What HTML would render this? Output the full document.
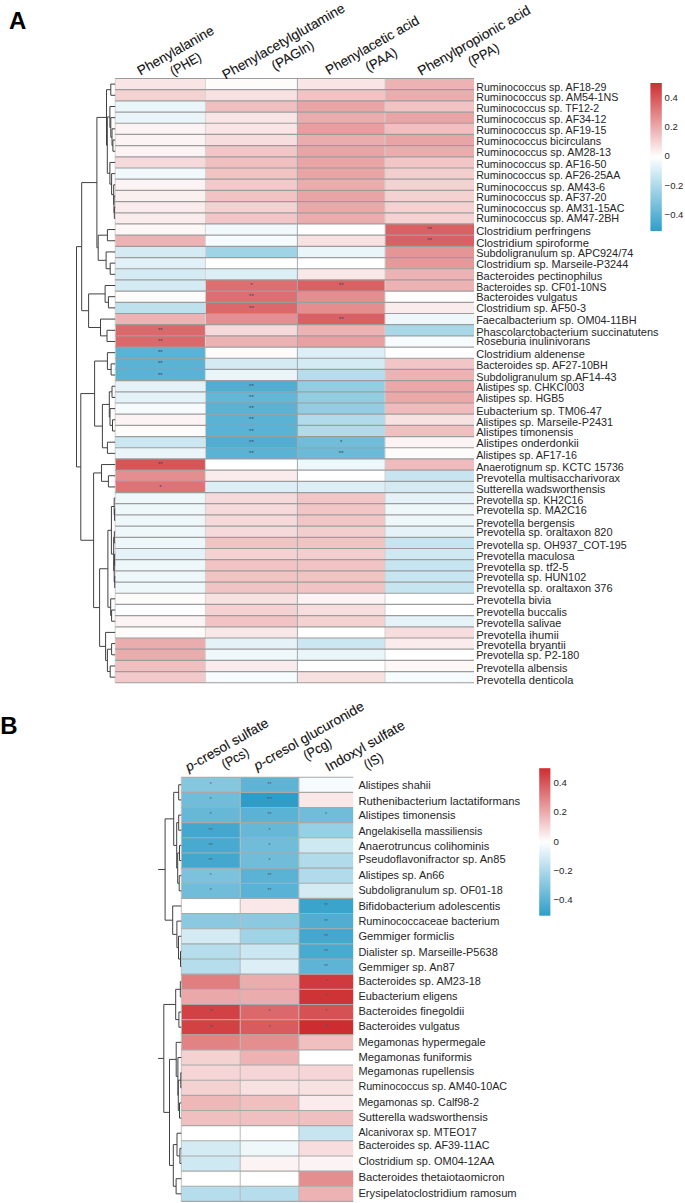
<!DOCTYPE html>
<html><head><meta charset="utf-8"><style>
html,body{margin:0;padding:0;background:#fff;width:685px;height:1203px;overflow:hidden}
</style></head><body>
<svg width="685" height="1203" viewBox="0 0 685 1203" style="position:absolute;left:0;top:0">
<style>text{font-family:"Liberation Sans",sans-serif;fill:#262626}</style>
<rect x="115.20" y="78.50" width="90.20" height="11.19" fill="#f9e5e5"/>
<rect x="205.40" y="78.50" width="92.00" height="11.19" fill="#fefbfb"/>
<rect x="297.40" y="78.50" width="87.60" height="11.19" fill="#f9e5e5"/>
<rect x="385.00" y="78.50" width="89.00" height="11.19" fill="#edb3b4"/>
<rect x="115.20" y="89.69" width="90.20" height="11.19" fill="#f4d2d2"/>
<rect x="205.40" y="89.69" width="92.00" height="11.19" fill="#f8e1e1"/>
<rect x="297.40" y="89.69" width="87.60" height="11.19" fill="#f1c3c3"/>
<rect x="385.00" y="89.69" width="89.00" height="11.19" fill="#ebacad"/>
<rect x="115.20" y="100.88" width="90.20" height="11.19" fill="#e9f5f9"/>
<rect x="205.40" y="100.88" width="92.00" height="11.19" fill="#f0bfc0"/>
<rect x="297.40" y="100.88" width="87.60" height="11.19" fill="#e9a4a6"/>
<rect x="385.00" y="100.88" width="89.00" height="11.19" fill="#f1c3c3"/>
<rect x="115.20" y="112.07" width="90.20" height="11.19" fill="#e9f5f9"/>
<rect x="205.40" y="112.07" width="92.00" height="11.19" fill="#f9e5e5"/>
<rect x="297.40" y="112.07" width="87.60" height="11.19" fill="#ebacad"/>
<rect x="385.00" y="112.07" width="89.00" height="11.19" fill="#e9a4a6"/>
<rect x="115.20" y="123.26" width="90.20" height="11.19" fill="#fcf4f4"/>
<rect x="205.40" y="123.26" width="92.00" height="11.19" fill="#f9e5e5"/>
<rect x="297.40" y="123.26" width="87.60" height="11.19" fill="#e89d9e"/>
<rect x="385.00" y="123.26" width="89.00" height="11.19" fill="#f0bfc0"/>
<rect x="115.20" y="134.45" width="90.20" height="11.19" fill="#fcf4f4"/>
<rect x="205.40" y="134.45" width="92.00" height="11.19" fill="#f7dddd"/>
<rect x="297.40" y="134.45" width="87.60" height="11.19" fill="#ebacad"/>
<rect x="385.00" y="134.45" width="89.00" height="11.19" fill="#e9a4a6"/>
<rect x="115.20" y="145.64" width="90.20" height="11.19" fill="#fcf4f4"/>
<rect x="205.40" y="145.64" width="92.00" height="11.19" fill="#f2c6c7"/>
<rect x="297.40" y="145.64" width="87.60" height="11.19" fill="#e9a4a6"/>
<rect x="385.00" y="145.64" width="89.00" height="11.19" fill="#ebacad"/>
<rect x="115.20" y="156.83" width="90.20" height="11.19" fill="#f6d9da"/>
<rect x="205.40" y="156.83" width="92.00" height="11.19" fill="#f0bfc0"/>
<rect x="297.40" y="156.83" width="87.60" height="11.19" fill="#e9a4a6"/>
<rect x="385.00" y="156.83" width="89.00" height="11.19" fill="#f2c6c7"/>
<rect x="115.20" y="168.02" width="90.20" height="11.19" fill="#f2f9fc"/>
<rect x="205.40" y="168.02" width="92.00" height="11.19" fill="#f1c3c3"/>
<rect x="297.40" y="168.02" width="87.60" height="11.19" fill="#e9a4a6"/>
<rect x="385.00" y="168.02" width="89.00" height="11.19" fill="#f3cecf"/>
<rect x="115.20" y="179.21" width="90.20" height="11.19" fill="#fcf4f4"/>
<rect x="205.40" y="179.21" width="92.00" height="11.19" fill="#f2cacb"/>
<rect x="297.40" y="179.21" width="87.60" height="11.19" fill="#ebacad"/>
<rect x="385.00" y="179.21" width="89.00" height="11.19" fill="#f4d2d2"/>
<rect x="115.20" y="190.40" width="90.20" height="11.19" fill="#fbf0f0"/>
<rect x="205.40" y="190.40" width="92.00" height="11.19" fill="#f1c3c3"/>
<rect x="297.40" y="190.40" width="87.60" height="11.19" fill="#e9a4a6"/>
<rect x="385.00" y="190.40" width="89.00" height="11.19" fill="#f4d2d2"/>
<rect x="115.20" y="201.59" width="90.20" height="11.19" fill="#faecec"/>
<rect x="205.40" y="201.59" width="92.00" height="11.19" fill="#f4d2d2"/>
<rect x="297.40" y="201.59" width="87.60" height="11.19" fill="#eaa8a9"/>
<rect x="385.00" y="201.59" width="89.00" height="11.19" fill="#f4d2d2"/>
<rect x="115.20" y="212.78" width="90.20" height="11.19" fill="#faecec"/>
<rect x="205.40" y="212.78" width="92.00" height="11.19" fill="#f2c6c7"/>
<rect x="297.40" y="212.78" width="87.60" height="11.19" fill="#ebacad"/>
<rect x="385.00" y="212.78" width="89.00" height="11.19" fill="#f4d2d2"/>
<rect x="115.20" y="223.97" width="90.20" height="11.19" fill="#fdf7f8"/>
<rect x="205.40" y="223.97" width="92.00" height="11.19" fill="#f2f9fc"/>
<rect x="297.40" y="223.97" width="87.60" height="11.19" fill="#ffffff"/>
<rect x="385.00" y="223.97" width="89.00" height="11.19" fill="#d96063"/>
<rect x="115.20" y="235.16" width="90.20" height="11.19" fill="#edb3b4"/>
<rect x="205.40" y="235.16" width="92.00" height="11.19" fill="#f6fbfd"/>
<rect x="297.40" y="235.16" width="87.60" height="11.19" fill="#f8e1e1"/>
<rect x="385.00" y="235.16" width="89.00" height="11.19" fill="#d96063"/>
<rect x="115.20" y="246.35" width="90.20" height="11.19" fill="#d4ebf4"/>
<rect x="205.40" y="246.35" width="92.00" height="11.19" fill="#9fd3e6"/>
<rect x="297.40" y="246.35" width="87.60" height="11.19" fill="#e9f5f9"/>
<rect x="385.00" y="246.35" width="89.00" height="11.19" fill="#e69597"/>
<rect x="115.20" y="257.54" width="90.20" height="11.19" fill="#e1f1f7"/>
<rect x="205.40" y="257.54" width="92.00" height="11.19" fill="#ffffff"/>
<rect x="297.40" y="257.54" width="87.60" height="11.19" fill="#ffffff"/>
<rect x="385.00" y="257.54" width="89.00" height="11.19" fill="#e7999a"/>
<rect x="115.20" y="268.73" width="90.20" height="11.19" fill="#d4ebf4"/>
<rect x="205.40" y="268.73" width="92.00" height="11.19" fill="#dceff6"/>
<rect x="297.40" y="268.73" width="87.60" height="11.19" fill="#fae8e9"/>
<rect x="385.00" y="268.73" width="89.00" height="11.19" fill="#edb3b4"/>
<rect x="115.20" y="279.92" width="90.20" height="11.19" fill="#d4ebf4"/>
<rect x="205.40" y="279.92" width="92.00" height="11.19" fill="#dd6f71"/>
<rect x="297.40" y="279.92" width="87.60" height="11.19" fill="#d96063"/>
<rect x="385.00" y="279.92" width="89.00" height="11.19" fill="#edb3b4"/>
<rect x="115.20" y="291.11" width="90.20" height="11.19" fill="#fefbfb"/>
<rect x="205.40" y="291.11" width="92.00" height="11.19" fill="#dd6f71"/>
<rect x="297.40" y="291.11" width="87.60" height="11.19" fill="#e48e8f"/>
<rect x="385.00" y="291.11" width="89.00" height="11.19" fill="#ffffff"/>
<rect x="115.20" y="302.30" width="90.20" height="11.19" fill="#bee1ee"/>
<rect x="205.40" y="302.30" width="92.00" height="11.19" fill="#db686a"/>
<rect x="297.40" y="302.30" width="87.60" height="11.19" fill="#e48e8f"/>
<rect x="385.00" y="302.30" width="89.00" height="11.19" fill="#faecec"/>
<rect x="115.20" y="313.49" width="90.20" height="11.19" fill="#edb3b4"/>
<rect x="205.40" y="313.49" width="92.00" height="11.19" fill="#e48e8f"/>
<rect x="297.40" y="313.49" width="87.60" height="11.19" fill="#d96063"/>
<rect x="385.00" y="313.49" width="89.00" height="11.19" fill="#eef7fa"/>
<rect x="115.20" y="324.68" width="90.20" height="11.19" fill="#db686a"/>
<rect x="205.40" y="324.68" width="92.00" height="11.19" fill="#f6d9da"/>
<rect x="297.40" y="324.68" width="87.60" height="11.19" fill="#edb3b4"/>
<rect x="385.00" y="324.68" width="89.00" height="11.19" fill="#a8d7e8"/>
<rect x="115.20" y="335.87" width="90.20" height="11.19" fill="#db686a"/>
<rect x="205.40" y="335.87" width="92.00" height="11.19" fill="#edb3b4"/>
<rect x="297.40" y="335.87" width="87.60" height="11.19" fill="#e8a0a2"/>
<rect x="385.00" y="335.87" width="89.00" height="11.19" fill="#f6fbfd"/>
<rect x="115.20" y="347.06" width="90.20" height="11.19" fill="#5ab2d4"/>
<rect x="205.40" y="347.06" width="92.00" height="11.19" fill="#fefbfb"/>
<rect x="297.40" y="347.06" width="87.60" height="11.19" fill="#dceff6"/>
<rect x="385.00" y="347.06" width="89.00" height="11.19" fill="#ffffff"/>
<rect x="115.20" y="358.25" width="90.20" height="11.19" fill="#5ab2d4"/>
<rect x="205.40" y="358.25" width="92.00" height="11.19" fill="#d4ebf4"/>
<rect x="297.40" y="358.25" width="87.60" height="11.19" fill="#d4ebf4"/>
<rect x="385.00" y="358.25" width="89.00" height="11.19" fill="#f2c6c7"/>
<rect x="115.20" y="369.44" width="90.20" height="11.19" fill="#5ab2d4"/>
<rect x="205.40" y="369.44" width="92.00" height="11.19" fill="#e9f5f9"/>
<rect x="297.40" y="369.44" width="87.60" height="11.19" fill="#b5ddec"/>
<rect x="385.00" y="369.44" width="89.00" height="11.19" fill="#edb3b4"/>
<rect x="115.20" y="380.63" width="90.20" height="11.19" fill="#e5f3f8"/>
<rect x="205.40" y="380.63" width="92.00" height="11.19" fill="#51aed1"/>
<rect x="297.40" y="380.63" width="87.60" height="11.19" fill="#92cde2"/>
<rect x="385.00" y="380.63" width="89.00" height="11.19" fill="#eaa8a9"/>
<rect x="115.20" y="391.82" width="90.20" height="11.19" fill="#e5f3f8"/>
<rect x="205.40" y="391.82" width="92.00" height="11.19" fill="#63b6d6"/>
<rect x="297.40" y="391.82" width="87.60" height="11.19" fill="#92cde2"/>
<rect x="385.00" y="391.82" width="89.00" height="11.19" fill="#eaa8a9"/>
<rect x="115.20" y="403.01" width="90.20" height="11.19" fill="#f6fbfd"/>
<rect x="205.40" y="403.01" width="92.00" height="11.19" fill="#5ab2d4"/>
<rect x="297.40" y="403.01" width="87.60" height="11.19" fill="#92cde2"/>
<rect x="385.00" y="403.01" width="89.00" height="11.19" fill="#efbbbc"/>
<rect x="115.20" y="414.20" width="90.20" height="11.19" fill="#fcf4f4"/>
<rect x="205.40" y="414.20" width="92.00" height="11.19" fill="#5ab2d4"/>
<rect x="297.40" y="414.20" width="87.60" height="11.19" fill="#b1dbea"/>
<rect x="385.00" y="414.20" width="89.00" height="11.19" fill="#f8e1e1"/>
<rect x="115.20" y="425.39" width="90.20" height="11.19" fill="#fefbfb"/>
<rect x="205.40" y="425.39" width="92.00" height="11.19" fill="#5ab2d4"/>
<rect x="297.40" y="425.39" width="87.60" height="11.19" fill="#b1dbea"/>
<rect x="385.00" y="425.39" width="89.00" height="11.19" fill="#f0bfc0"/>
<rect x="115.20" y="436.58" width="90.20" height="11.19" fill="#cbe7f1"/>
<rect x="205.40" y="436.58" width="92.00" height="11.19" fill="#51aed1"/>
<rect x="297.40" y="436.58" width="87.60" height="11.19" fill="#70bcd9"/>
<rect x="385.00" y="436.58" width="89.00" height="11.19" fill="#fcf4f4"/>
<rect x="115.20" y="447.77" width="90.20" height="11.19" fill="#e9f5f9"/>
<rect x="205.40" y="447.77" width="92.00" height="11.19" fill="#5ab2d4"/>
<rect x="297.40" y="447.77" width="87.60" height="11.19" fill="#6bbad8"/>
<rect x="385.00" y="447.77" width="89.00" height="11.19" fill="#fefbfb"/>
<rect x="115.20" y="458.96" width="90.20" height="11.19" fill="#d65557"/>
<rect x="205.40" y="458.96" width="92.00" height="11.19" fill="#ffffff"/>
<rect x="297.40" y="458.96" width="87.60" height="11.19" fill="#eef7fa"/>
<rect x="385.00" y="458.96" width="89.00" height="11.19" fill="#efbbbc"/>
<rect x="115.20" y="470.15" width="90.20" height="11.19" fill="#e48e8f"/>
<rect x="205.40" y="470.15" width="92.00" height="11.19" fill="#faecec"/>
<rect x="297.40" y="470.15" width="87.60" height="11.19" fill="#ffffff"/>
<rect x="385.00" y="470.15" width="89.00" height="11.19" fill="#c6e5f0"/>
<rect x="115.20" y="481.34" width="90.20" height="11.19" fill="#de7375"/>
<rect x="205.40" y="481.34" width="92.00" height="11.19" fill="#dceff6"/>
<rect x="297.40" y="481.34" width="87.60" height="11.19" fill="#dceff6"/>
<rect x="385.00" y="481.34" width="89.00" height="11.19" fill="#d4ebf4"/>
<rect x="115.20" y="492.53" width="90.20" height="11.19" fill="#eef7fa"/>
<rect x="205.40" y="492.53" width="92.00" height="11.19" fill="#f6d9da"/>
<rect x="297.40" y="492.53" width="87.60" height="11.19" fill="#f2c6c7"/>
<rect x="385.00" y="492.53" width="89.00" height="11.19" fill="#e5f3f8"/>
<rect x="115.20" y="503.72" width="90.20" height="11.19" fill="#eef7fa"/>
<rect x="205.40" y="503.72" width="92.00" height="11.19" fill="#f6d9da"/>
<rect x="297.40" y="503.72" width="87.60" height="11.19" fill="#f2c6c7"/>
<rect x="385.00" y="503.72" width="89.00" height="11.19" fill="#eef7fa"/>
<rect x="115.20" y="514.91" width="90.20" height="11.19" fill="#eef7fa"/>
<rect x="205.40" y="514.91" width="92.00" height="11.19" fill="#f6d9da"/>
<rect x="297.40" y="514.91" width="87.60" height="11.19" fill="#f2c6c7"/>
<rect x="385.00" y="514.91" width="89.00" height="11.19" fill="#eef7fa"/>
<rect x="115.20" y="526.10" width="90.20" height="11.19" fill="#eef7fa"/>
<rect x="205.40" y="526.10" width="92.00" height="11.19" fill="#f6d9da"/>
<rect x="297.40" y="526.10" width="87.60" height="11.19" fill="#f3cecf"/>
<rect x="385.00" y="526.10" width="89.00" height="11.19" fill="#e5f3f8"/>
<rect x="115.20" y="537.29" width="90.20" height="11.19" fill="#eef7fa"/>
<rect x="205.40" y="537.29" width="92.00" height="11.19" fill="#f1c3c3"/>
<rect x="297.40" y="537.29" width="87.60" height="11.19" fill="#f1c3c3"/>
<rect x="385.00" y="537.29" width="89.00" height="11.19" fill="#c6e5f0"/>
<rect x="115.20" y="548.48" width="90.20" height="11.19" fill="#e5f3f8"/>
<rect x="205.40" y="548.48" width="92.00" height="11.19" fill="#f4d2d2"/>
<rect x="297.40" y="548.48" width="87.60" height="11.19" fill="#f3cecf"/>
<rect x="385.00" y="548.48" width="89.00" height="11.19" fill="#cfe9f2"/>
<rect x="115.20" y="559.67" width="90.20" height="11.19" fill="#eef7fa"/>
<rect x="205.40" y="559.67" width="92.00" height="11.19" fill="#f1c3c3"/>
<rect x="297.40" y="559.67" width="87.60" height="11.19" fill="#f1c3c3"/>
<rect x="385.00" y="559.67" width="89.00" height="11.19" fill="#c6e5f0"/>
<rect x="115.20" y="570.86" width="90.20" height="11.19" fill="#eef7fa"/>
<rect x="205.40" y="570.86" width="92.00" height="11.19" fill="#f1c3c3"/>
<rect x="297.40" y="570.86" width="87.60" height="11.19" fill="#f1c3c3"/>
<rect x="385.00" y="570.86" width="89.00" height="11.19" fill="#c6e5f0"/>
<rect x="115.20" y="582.05" width="90.20" height="11.19" fill="#eef7fa"/>
<rect x="205.40" y="582.05" width="92.00" height="11.19" fill="#f1c3c3"/>
<rect x="297.40" y="582.05" width="87.60" height="11.19" fill="#f1c3c3"/>
<rect x="385.00" y="582.05" width="89.00" height="11.19" fill="#c6e5f0"/>
<rect x="115.20" y="593.24" width="90.20" height="11.19" fill="#fefbfb"/>
<rect x="205.40" y="593.24" width="92.00" height="11.19" fill="#f8e1e1"/>
<rect x="297.40" y="593.24" width="87.60" height="11.19" fill="#fcf4f4"/>
<rect x="385.00" y="593.24" width="89.00" height="11.19" fill="#ffffff"/>
<rect x="115.20" y="604.43" width="90.20" height="11.19" fill="#fbfdfe"/>
<rect x="205.40" y="604.43" width="92.00" height="11.19" fill="#f4d2d2"/>
<rect x="297.40" y="604.43" width="87.60" height="11.19" fill="#f7dddd"/>
<rect x="385.00" y="604.43" width="89.00" height="11.19" fill="#ffffff"/>
<rect x="115.20" y="615.62" width="90.20" height="11.19" fill="#fcf4f4"/>
<rect x="205.40" y="615.62" width="92.00" height="11.19" fill="#f1c3c3"/>
<rect x="297.40" y="615.62" width="87.60" height="11.19" fill="#f4d2d2"/>
<rect x="385.00" y="615.62" width="89.00" height="11.19" fill="#e5f3f8"/>
<rect x="115.20" y="626.81" width="90.20" height="11.19" fill="#fefbfb"/>
<rect x="205.40" y="626.81" width="92.00" height="11.19" fill="#fae8e9"/>
<rect x="297.40" y="626.81" width="87.60" height="11.19" fill="#ffffff"/>
<rect x="385.00" y="626.81" width="89.00" height="11.19" fill="#f7dddd"/>
<rect x="115.20" y="638.00" width="90.20" height="11.19" fill="#ebacad"/>
<rect x="205.40" y="638.00" width="92.00" height="11.19" fill="#e5f3f8"/>
<rect x="297.40" y="638.00" width="87.60" height="11.19" fill="#cbe7f1"/>
<rect x="385.00" y="638.00" width="89.00" height="11.19" fill="#faecec"/>
<rect x="115.20" y="649.19" width="90.20" height="11.19" fill="#ebacad"/>
<rect x="205.40" y="649.19" width="92.00" height="11.19" fill="#eef7fa"/>
<rect x="297.40" y="649.19" width="87.60" height="11.19" fill="#e9f5f9"/>
<rect x="385.00" y="649.19" width="89.00" height="11.19" fill="#ffffff"/>
<rect x="115.20" y="660.38" width="90.20" height="11.19" fill="#f0bfc0"/>
<rect x="205.40" y="660.38" width="92.00" height="11.19" fill="#faecec"/>
<rect x="297.40" y="660.38" width="87.60" height="11.19" fill="#ffffff"/>
<rect x="385.00" y="660.38" width="89.00" height="11.19" fill="#fdf7f8"/>
<rect x="115.20" y="671.57" width="90.20" height="11.19" fill="#f2cacb"/>
<rect x="205.40" y="671.57" width="92.00" height="11.19" fill="#f6fbfd"/>
<rect x="297.40" y="671.57" width="87.60" height="11.19" fill="#f8e1e1"/>
<rect x="385.00" y="671.57" width="89.00" height="11.19" fill="#f6fbfd"/>
<line x1="115.20" y1="78.50" x2="115.20" y2="682.76" stroke="#d0d0d0" stroke-width="1.00"/>
<line x1="205.40" y1="78.50" x2="205.40" y2="682.76" stroke="#d4d4d4" stroke-width="1.00"/>
<line x1="297.40" y1="78.50" x2="297.40" y2="682.76" stroke="#a0a8b0" stroke-width="1.00"/>
<line x1="385.00" y1="78.50" x2="385.00" y2="682.76" stroke="#d0d0d0" stroke-width="1.00"/>
<line x1="115.20" y1="78.50" x2="474.00" y2="78.50" stroke="#9c9c9c" stroke-width="1.20"/>
<line x1="115.20" y1="89.69" x2="474.00" y2="89.69" stroke="#9c9c9c" stroke-width="1.20"/>
<line x1="115.20" y1="100.88" x2="474.00" y2="100.88" stroke="#9c9c9c" stroke-width="1.20"/>
<line x1="115.20" y1="112.07" x2="474.00" y2="112.07" stroke="#9c9c9c" stroke-width="1.20"/>
<line x1="115.20" y1="123.26" x2="474.00" y2="123.26" stroke="#9c9c9c" stroke-width="1.20"/>
<line x1="115.20" y1="134.45" x2="474.00" y2="134.45" stroke="#9c9c9c" stroke-width="1.20"/>
<line x1="115.20" y1="145.64" x2="474.00" y2="145.64" stroke="#9c9c9c" stroke-width="1.20"/>
<line x1="115.20" y1="156.83" x2="474.00" y2="156.83" stroke="#9c9c9c" stroke-width="1.20"/>
<line x1="115.20" y1="168.02" x2="474.00" y2="168.02" stroke="#9c9c9c" stroke-width="1.20"/>
<line x1="115.20" y1="179.21" x2="474.00" y2="179.21" stroke="#9c9c9c" stroke-width="1.20"/>
<line x1="115.20" y1="190.40" x2="474.00" y2="190.40" stroke="#9c9c9c" stroke-width="1.20"/>
<line x1="115.20" y1="201.59" x2="474.00" y2="201.59" stroke="#9c9c9c" stroke-width="1.20"/>
<line x1="115.20" y1="212.78" x2="474.00" y2="212.78" stroke="#9c9c9c" stroke-width="1.20"/>
<line x1="115.20" y1="223.97" x2="474.00" y2="223.97" stroke="#9c9c9c" stroke-width="1.20"/>
<line x1="115.20" y1="235.16" x2="474.00" y2="235.16" stroke="#9c9c9c" stroke-width="1.20"/>
<line x1="115.20" y1="246.35" x2="474.00" y2="246.35" stroke="#9c9c9c" stroke-width="1.20"/>
<line x1="115.20" y1="257.54" x2="474.00" y2="257.54" stroke="#9c9c9c" stroke-width="1.20"/>
<line x1="115.20" y1="268.73" x2="474.00" y2="268.73" stroke="#9c9c9c" stroke-width="1.20"/>
<line x1="115.20" y1="279.92" x2="474.00" y2="279.92" stroke="#9c9c9c" stroke-width="1.20"/>
<line x1="115.20" y1="291.11" x2="474.00" y2="291.11" stroke="#9c9c9c" stroke-width="1.20"/>
<line x1="115.20" y1="302.30" x2="474.00" y2="302.30" stroke="#9c9c9c" stroke-width="1.20"/>
<line x1="115.20" y1="313.49" x2="474.00" y2="313.49" stroke="#9c9c9c" stroke-width="1.20"/>
<line x1="115.20" y1="324.68" x2="474.00" y2="324.68" stroke="#9c9c9c" stroke-width="1.20"/>
<line x1="115.20" y1="335.87" x2="474.00" y2="335.87" stroke="#9c9c9c" stroke-width="1.20"/>
<line x1="115.20" y1="347.06" x2="474.00" y2="347.06" stroke="#9c9c9c" stroke-width="1.20"/>
<line x1="115.20" y1="358.25" x2="474.00" y2="358.25" stroke="#9c9c9c" stroke-width="1.20"/>
<line x1="115.20" y1="369.44" x2="474.00" y2="369.44" stroke="#9c9c9c" stroke-width="1.20"/>
<line x1="115.20" y1="380.63" x2="474.00" y2="380.63" stroke="#9c9c9c" stroke-width="1.20"/>
<line x1="115.20" y1="391.82" x2="474.00" y2="391.82" stroke="#9c9c9c" stroke-width="1.20"/>
<line x1="115.20" y1="403.01" x2="474.00" y2="403.01" stroke="#9c9c9c" stroke-width="1.20"/>
<line x1="115.20" y1="414.20" x2="474.00" y2="414.20" stroke="#9c9c9c" stroke-width="1.20"/>
<line x1="115.20" y1="425.39" x2="474.00" y2="425.39" stroke="#9c9c9c" stroke-width="1.20"/>
<line x1="115.20" y1="436.58" x2="474.00" y2="436.58" stroke="#9c9c9c" stroke-width="1.20"/>
<line x1="115.20" y1="447.77" x2="474.00" y2="447.77" stroke="#9c9c9c" stroke-width="1.20"/>
<line x1="115.20" y1="458.96" x2="474.00" y2="458.96" stroke="#9c9c9c" stroke-width="1.20"/>
<line x1="115.20" y1="470.15" x2="474.00" y2="470.15" stroke="#9c9c9c" stroke-width="1.20"/>
<line x1="115.20" y1="481.34" x2="474.00" y2="481.34" stroke="#9c9c9c" stroke-width="1.20"/>
<line x1="115.20" y1="492.53" x2="474.00" y2="492.53" stroke="#9c9c9c" stroke-width="1.20"/>
<line x1="115.20" y1="503.72" x2="474.00" y2="503.72" stroke="#9c9c9c" stroke-width="1.20"/>
<line x1="115.20" y1="514.91" x2="474.00" y2="514.91" stroke="#9c9c9c" stroke-width="1.20"/>
<line x1="115.20" y1="526.10" x2="474.00" y2="526.10" stroke="#9c9c9c" stroke-width="1.20"/>
<line x1="115.20" y1="537.29" x2="474.00" y2="537.29" stroke="#9c9c9c" stroke-width="1.20"/>
<line x1="115.20" y1="548.48" x2="474.00" y2="548.48" stroke="#9c9c9c" stroke-width="1.20"/>
<line x1="115.20" y1="559.67" x2="474.00" y2="559.67" stroke="#9c9c9c" stroke-width="1.20"/>
<line x1="115.20" y1="570.86" x2="474.00" y2="570.86" stroke="#9c9c9c" stroke-width="1.20"/>
<line x1="115.20" y1="582.05" x2="474.00" y2="582.05" stroke="#9c9c9c" stroke-width="1.20"/>
<line x1="115.20" y1="593.24" x2="474.00" y2="593.24" stroke="#9c9c9c" stroke-width="1.20"/>
<line x1="115.20" y1="604.43" x2="474.00" y2="604.43" stroke="#9c9c9c" stroke-width="1.20"/>
<line x1="115.20" y1="615.62" x2="474.00" y2="615.62" stroke="#9c9c9c" stroke-width="1.20"/>
<line x1="115.20" y1="626.81" x2="474.00" y2="626.81" stroke="#9c9c9c" stroke-width="1.20"/>
<line x1="115.20" y1="638.00" x2="474.00" y2="638.00" stroke="#9c9c9c" stroke-width="1.20"/>
<line x1="115.20" y1="649.19" x2="474.00" y2="649.19" stroke="#9c9c9c" stroke-width="1.20"/>
<line x1="115.20" y1="660.38" x2="474.00" y2="660.38" stroke="#9c9c9c" stroke-width="1.20"/>
<line x1="115.20" y1="671.57" x2="474.00" y2="671.57" stroke="#9c9c9c" stroke-width="1.20"/>
<line x1="115.20" y1="682.76" x2="474.00" y2="682.76" stroke="#9c9c9c" stroke-width="1.20"/>
<text x="429.50" y="231.16" font-size="6.0" text-anchor="middle" style="fill:#3a4450">**</text>
<text x="429.50" y="242.35" font-size="6.0" text-anchor="middle" style="fill:#3a4450">**</text>
<text x="251.40" y="287.12" font-size="6.0" text-anchor="middle" style="fill:#3a4450">*</text>
<text x="251.40" y="298.31" font-size="6.0" text-anchor="middle" style="fill:#3a4450">**</text>
<text x="251.40" y="309.50" font-size="6.0" text-anchor="middle" style="fill:#3a4450">**</text>
<text x="341.20" y="287.12" font-size="6.0" text-anchor="middle" style="fill:#3a4450">**</text>
<text x="341.20" y="320.69" font-size="6.0" text-anchor="middle" style="fill:#3a4450">**</text>
<text x="160.30" y="331.88" font-size="6.0" text-anchor="middle" style="fill:#3a4450">**</text>
<text x="160.30" y="343.07" font-size="6.0" text-anchor="middle" style="fill:#3a4450">**</text>
<text x="160.30" y="354.26" font-size="6.0" text-anchor="middle" style="fill:#3a4450">**</text>
<text x="160.30" y="365.45" font-size="6.0" text-anchor="middle" style="fill:#3a4450">**</text>
<text x="160.30" y="376.64" font-size="6.0" text-anchor="middle" style="fill:#3a4450">**</text>
<text x="251.40" y="387.83" font-size="6.0" text-anchor="middle" style="fill:#3a4450">**</text>
<text x="251.40" y="399.02" font-size="6.0" text-anchor="middle" style="fill:#3a4450">**</text>
<text x="251.40" y="410.21" font-size="6.0" text-anchor="middle" style="fill:#3a4450">**</text>
<text x="251.40" y="421.40" font-size="6.0" text-anchor="middle" style="fill:#3a4450">**</text>
<text x="251.40" y="432.59" font-size="6.0" text-anchor="middle" style="fill:#3a4450">**</text>
<text x="251.40" y="443.78" font-size="6.0" text-anchor="middle" style="fill:#3a4450">**</text>
<text x="251.40" y="454.97" font-size="6.0" text-anchor="middle" style="fill:#3a4450">**</text>
<text x="341.20" y="443.78" font-size="6.0" text-anchor="middle" style="fill:#3a4450">*</text>
<text x="341.20" y="454.97" font-size="6.0" text-anchor="middle" style="fill:#3a4450">**</text>
<text x="160.30" y="466.16" font-size="6.0" text-anchor="middle" style="fill:#3a4450">**</text>
<text x="160.30" y="488.54" font-size="6.0" text-anchor="middle" style="fill:#3a4450">*</text>
<rect x="181.30" y="777.20" width="58.90" height="15.15" fill="#85c7df"/>
<rect x="240.20" y="777.20" width="58.70" height="15.15" fill="#5eb4d5"/>
<rect x="298.90" y="777.20" width="54.30" height="15.15" fill="#f6fbfd"/>
<rect x="181.30" y="792.35" width="58.90" height="15.15" fill="#70bcd9"/>
<rect x="240.20" y="792.35" width="58.70" height="15.15" fill="#2e9ec8"/>
<rect x="298.90" y="792.35" width="54.30" height="15.15" fill="#fae8e9"/>
<rect x="181.30" y="807.50" width="58.90" height="15.15" fill="#67b8d7"/>
<rect x="240.20" y="807.50" width="58.70" height="15.15" fill="#5ab2d4"/>
<rect x="298.90" y="807.50" width="54.30" height="15.15" fill="#70bcd9"/>
<rect x="181.30" y="822.65" width="58.90" height="15.15" fill="#44a8ce"/>
<rect x="240.20" y="822.65" width="58.70" height="15.15" fill="#67b8d7"/>
<rect x="298.90" y="822.65" width="54.30" height="15.15" fill="#97cfe4"/>
<rect x="181.30" y="837.80" width="58.90" height="15.15" fill="#48aacf"/>
<rect x="240.20" y="837.80" width="58.70" height="15.15" fill="#70bcd9"/>
<rect x="298.90" y="837.80" width="54.30" height="15.15" fill="#cfe9f2"/>
<rect x="181.30" y="852.95" width="58.90" height="15.15" fill="#44a8ce"/>
<rect x="240.20" y="852.95" width="58.70" height="15.15" fill="#70bcd9"/>
<rect x="298.90" y="852.95" width="54.30" height="15.15" fill="#b1dbea"/>
<rect x="181.30" y="868.10" width="58.90" height="15.15" fill="#7dc2dd"/>
<rect x="240.20" y="868.10" width="58.70" height="15.15" fill="#5ab2d4"/>
<rect x="298.90" y="868.10" width="54.30" height="15.15" fill="#b1dbea"/>
<rect x="181.30" y="883.25" width="58.90" height="15.15" fill="#70bcd9"/>
<rect x="240.20" y="883.25" width="58.70" height="15.15" fill="#5ab2d4"/>
<rect x="298.90" y="883.25" width="54.30" height="15.15" fill="#d4ebf4"/>
<rect x="181.30" y="898.40" width="58.90" height="15.15" fill="#ffffff"/>
<rect x="240.20" y="898.40" width="58.70" height="15.15" fill="#fae8e9"/>
<rect x="298.90" y="898.40" width="54.30" height="15.15" fill="#3ba4cc"/>
<rect x="181.30" y="913.55" width="58.90" height="15.15" fill="#8ac9e0"/>
<rect x="240.20" y="913.55" width="58.70" height="15.15" fill="#8ac9e0"/>
<rect x="298.90" y="913.55" width="54.30" height="15.15" fill="#51aed1"/>
<rect x="181.30" y="928.70" width="58.90" height="15.15" fill="#d4ebf4"/>
<rect x="240.20" y="928.70" width="58.70" height="15.15" fill="#9fd3e6"/>
<rect x="298.90" y="928.70" width="54.30" height="15.15" fill="#44a8ce"/>
<rect x="181.30" y="943.85" width="58.90" height="15.15" fill="#b5ddec"/>
<rect x="240.20" y="943.85" width="58.70" height="15.15" fill="#cbe7f1"/>
<rect x="298.90" y="943.85" width="54.30" height="15.15" fill="#48aacf"/>
<rect x="181.30" y="959.00" width="58.90" height="15.15" fill="#b5ddec"/>
<rect x="240.20" y="959.00" width="58.70" height="15.15" fill="#dceff6"/>
<rect x="298.90" y="959.00" width="54.30" height="15.15" fill="#5eb4d5"/>
<rect x="181.30" y="974.15" width="58.90" height="15.15" fill="#e07e80"/>
<rect x="240.20" y="974.15" width="58.70" height="15.15" fill="#ebacad"/>
<rect x="298.90" y="974.15" width="54.30" height="15.15" fill="#d03a3d"/>
<rect x="181.30" y="989.30" width="58.90" height="15.15" fill="#eaa8a9"/>
<rect x="240.20" y="989.30" width="58.70" height="15.15" fill="#ebacad"/>
<rect x="298.90" y="989.30" width="54.30" height="15.15" fill="#ce3336"/>
<rect x="181.30" y="1004.45" width="58.90" height="15.15" fill="#d24245"/>
<rect x="240.20" y="1004.45" width="58.70" height="15.15" fill="#db686a"/>
<rect x="298.90" y="1004.45" width="54.30" height="15.15" fill="#d65154"/>
<rect x="181.30" y="1019.60" width="58.90" height="15.15" fill="#d24245"/>
<rect x="240.20" y="1019.60" width="58.70" height="15.15" fill="#d85c5f"/>
<rect x="298.90" y="1019.60" width="54.30" height="15.15" fill="#cd2d30"/>
<rect x="181.30" y="1034.75" width="58.90" height="15.15" fill="#e18284"/>
<rect x="240.20" y="1034.75" width="58.70" height="15.15" fill="#e48e8f"/>
<rect x="298.90" y="1034.75" width="54.30" height="15.15" fill="#f0bfc0"/>
<rect x="181.30" y="1049.90" width="58.90" height="15.15" fill="#f4d2d2"/>
<rect x="240.20" y="1049.90" width="58.70" height="15.15" fill="#edb3b4"/>
<rect x="298.90" y="1049.90" width="54.30" height="15.15" fill="#ffffff"/>
<rect x="181.30" y="1065.05" width="58.90" height="15.15" fill="#f5d5d6"/>
<rect x="240.20" y="1065.05" width="58.70" height="15.15" fill="#f5d5d6"/>
<rect x="298.90" y="1065.05" width="54.30" height="15.15" fill="#f5d5d6"/>
<rect x="181.30" y="1080.20" width="58.90" height="15.15" fill="#f4d2d2"/>
<rect x="240.20" y="1080.20" width="58.70" height="15.15" fill="#f8e1e1"/>
<rect x="298.90" y="1080.20" width="54.30" height="15.15" fill="#f8e1e1"/>
<rect x="181.30" y="1095.35" width="58.90" height="15.15" fill="#eeb7b8"/>
<rect x="240.20" y="1095.35" width="58.70" height="15.15" fill="#f0bfc0"/>
<rect x="298.90" y="1095.35" width="54.30" height="15.15" fill="#faecec"/>
<rect x="181.30" y="1110.50" width="58.90" height="15.15" fill="#f0bfc0"/>
<rect x="240.20" y="1110.50" width="58.70" height="15.15" fill="#f0bfc0"/>
<rect x="298.90" y="1110.50" width="54.30" height="15.15" fill="#f0bfc0"/>
<rect x="181.30" y="1125.65" width="58.90" height="15.15" fill="#ffffff"/>
<rect x="240.20" y="1125.65" width="58.70" height="15.15" fill="#ffffff"/>
<rect x="298.90" y="1125.65" width="54.30" height="15.15" fill="#c6e5f0"/>
<rect x="181.30" y="1140.80" width="58.90" height="15.15" fill="#d4ebf4"/>
<rect x="240.20" y="1140.80" width="58.70" height="15.15" fill="#eef7fa"/>
<rect x="298.90" y="1140.80" width="54.30" height="15.15" fill="#f7dddd"/>
<rect x="181.30" y="1155.95" width="58.90" height="15.15" fill="#cfe9f2"/>
<rect x="240.20" y="1155.95" width="58.70" height="15.15" fill="#fcf4f4"/>
<rect x="298.90" y="1155.95" width="54.30" height="15.15" fill="#fcf4f4"/>
<rect x="181.30" y="1171.10" width="58.90" height="15.15" fill="#ffffff"/>
<rect x="240.20" y="1171.10" width="58.70" height="15.15" fill="#ffffff"/>
<rect x="298.90" y="1171.10" width="54.30" height="15.15" fill="#e48e8f"/>
<rect x="181.30" y="1186.25" width="58.90" height="15.15" fill="#b5ddec"/>
<rect x="240.20" y="1186.25" width="58.70" height="15.15" fill="#b5ddec"/>
<rect x="298.90" y="1186.25" width="54.30" height="15.15" fill="#edb3b4"/>
<line x1="181.30" y1="777.20" x2="181.30" y2="1201.40" stroke="#c0c0c0" stroke-width="1.00"/>
<line x1="240.20" y1="777.20" x2="240.20" y2="1201.40" stroke="#b8b8b8" stroke-width="1.00"/>
<line x1="298.90" y1="777.20" x2="298.90" y2="1201.40" stroke="#b8b8b8" stroke-width="1.00"/>
<line x1="181.30" y1="777.20" x2="353.20" y2="777.20" stroke="#a8a8a8" stroke-width="1.10"/>
<line x1="181.30" y1="792.35" x2="353.20" y2="792.35" stroke="#a8a8a8" stroke-width="1.10"/>
<line x1="181.30" y1="807.50" x2="353.20" y2="807.50" stroke="#a8a8a8" stroke-width="1.10"/>
<line x1="181.30" y1="822.65" x2="353.20" y2="822.65" stroke="#a8a8a8" stroke-width="1.10"/>
<line x1="181.30" y1="837.80" x2="353.20" y2="837.80" stroke="#a8a8a8" stroke-width="1.10"/>
<line x1="181.30" y1="852.95" x2="353.20" y2="852.95" stroke="#a8a8a8" stroke-width="1.10"/>
<line x1="181.30" y1="868.10" x2="353.20" y2="868.10" stroke="#a8a8a8" stroke-width="1.10"/>
<line x1="181.30" y1="883.25" x2="353.20" y2="883.25" stroke="#a8a8a8" stroke-width="1.10"/>
<line x1="181.30" y1="898.40" x2="353.20" y2="898.40" stroke="#a8a8a8" stroke-width="1.10"/>
<line x1="181.30" y1="913.55" x2="353.20" y2="913.55" stroke="#a8a8a8" stroke-width="1.10"/>
<line x1="181.30" y1="928.70" x2="353.20" y2="928.70" stroke="#a8a8a8" stroke-width="1.10"/>
<line x1="181.30" y1="943.85" x2="353.20" y2="943.85" stroke="#a8a8a8" stroke-width="1.10"/>
<line x1="181.30" y1="959.00" x2="353.20" y2="959.00" stroke="#a8a8a8" stroke-width="1.10"/>
<line x1="181.30" y1="974.15" x2="353.20" y2="974.15" stroke="#a8a8a8" stroke-width="1.10"/>
<line x1="181.30" y1="989.30" x2="353.20" y2="989.30" stroke="#a8a8a8" stroke-width="1.10"/>
<line x1="181.30" y1="1004.45" x2="353.20" y2="1004.45" stroke="#a8a8a8" stroke-width="1.10"/>
<line x1="181.30" y1="1019.60" x2="353.20" y2="1019.60" stroke="#a8a8a8" stroke-width="1.10"/>
<line x1="181.30" y1="1034.75" x2="353.20" y2="1034.75" stroke="#a8a8a8" stroke-width="1.10"/>
<line x1="181.30" y1="1049.90" x2="353.20" y2="1049.90" stroke="#a8a8a8" stroke-width="1.10"/>
<line x1="181.30" y1="1065.05" x2="353.20" y2="1065.05" stroke="#a8a8a8" stroke-width="1.10"/>
<line x1="181.30" y1="1080.20" x2="353.20" y2="1080.20" stroke="#a8a8a8" stroke-width="1.10"/>
<line x1="181.30" y1="1095.35" x2="353.20" y2="1095.35" stroke="#a8a8a8" stroke-width="1.10"/>
<line x1="181.30" y1="1110.50" x2="353.20" y2="1110.50" stroke="#a8a8a8" stroke-width="1.10"/>
<line x1="181.30" y1="1125.65" x2="353.20" y2="1125.65" stroke="#a8a8a8" stroke-width="1.10"/>
<line x1="181.30" y1="1140.80" x2="353.20" y2="1140.80" stroke="#a8a8a8" stroke-width="1.10"/>
<line x1="181.30" y1="1155.95" x2="353.20" y2="1155.95" stroke="#a8a8a8" stroke-width="1.10"/>
<line x1="181.30" y1="1171.10" x2="353.20" y2="1171.10" stroke="#a8a8a8" stroke-width="1.10"/>
<line x1="181.30" y1="1186.25" x2="353.20" y2="1186.25" stroke="#a8a8a8" stroke-width="1.10"/>
<line x1="181.30" y1="1201.40" x2="353.20" y2="1201.40" stroke="#a8a8a8" stroke-width="1.10"/>
<text x="210.75" y="786.18" font-size="5.0" text-anchor="middle" style="fill:#4a5a68">*</text>
<text x="269.55" y="786.18" font-size="5.0" text-anchor="middle" style="fill:#4a5a68">**</text>
<text x="210.75" y="801.33" font-size="5.0" text-anchor="middle" style="fill:#4a5a68">*</text>
<text x="269.55" y="801.33" font-size="5.0" text-anchor="middle" style="fill:#4a5a68">***</text>
<text x="210.75" y="816.48" font-size="5.0" text-anchor="middle" style="fill:#4a5a68">*</text>
<text x="269.55" y="816.48" font-size="5.0" text-anchor="middle" style="fill:#4a5a68">**</text>
<text x="326.05" y="816.48" font-size="5.0" text-anchor="middle" style="fill:#4a5a68">*</text>
<text x="210.75" y="831.63" font-size="5.0" text-anchor="middle" style="fill:#4a5a68">**</text>
<text x="269.55" y="831.63" font-size="5.0" text-anchor="middle" style="fill:#4a5a68">*</text>
<text x="210.75" y="846.78" font-size="5.0" text-anchor="middle" style="fill:#4a5a68">**</text>
<text x="269.55" y="846.78" font-size="5.0" text-anchor="middle" style="fill:#4a5a68">*</text>
<text x="210.75" y="861.93" font-size="5.0" text-anchor="middle" style="fill:#4a5a68">**</text>
<text x="269.55" y="861.93" font-size="5.0" text-anchor="middle" style="fill:#4a5a68">*</text>
<text x="210.75" y="877.08" font-size="5.0" text-anchor="middle" style="fill:#4a5a68">*</text>
<text x="269.55" y="877.08" font-size="5.0" text-anchor="middle" style="fill:#4a5a68">**</text>
<text x="210.75" y="892.23" font-size="5.0" text-anchor="middle" style="fill:#4a5a68">*</text>
<text x="269.55" y="892.23" font-size="5.0" text-anchor="middle" style="fill:#4a5a68">**</text>
<text x="326.05" y="907.38" font-size="5.0" text-anchor="middle" style="fill:#4a5a68">**</text>
<text x="326.05" y="922.53" font-size="5.0" text-anchor="middle" style="fill:#4a5a68">**</text>
<text x="326.05" y="937.68" font-size="5.0" text-anchor="middle" style="fill:#4a5a68">**</text>
<text x="326.05" y="952.83" font-size="5.0" text-anchor="middle" style="fill:#4a5a68">**</text>
<text x="326.05" y="967.98" font-size="5.0" text-anchor="middle" style="fill:#4a5a68">**</text>
<text x="326.05" y="983.13" font-size="5.0" text-anchor="middle" style="fill:#4a5a68">*</text>
<text x="326.05" y="998.28" font-size="5.0" text-anchor="middle" style="fill:#4a5a68">*</text>
<text x="210.75" y="1013.43" font-size="5.0" text-anchor="middle" style="fill:#4a5a68">**</text>
<text x="269.55" y="1013.43" font-size="5.0" text-anchor="middle" style="fill:#4a5a68">*</text>
<text x="326.05" y="1013.43" font-size="5.0" text-anchor="middle" style="fill:#4a5a68">*</text>
<text x="210.75" y="1028.58" font-size="5.0" text-anchor="middle" style="fill:#4a5a68">**</text>
<text x="269.55" y="1028.58" font-size="5.0" text-anchor="middle" style="fill:#4a5a68">*</text>
<text x="326.05" y="1028.58" font-size="5.0" text-anchor="middle" style="fill:#4a5a68">**</text>
<text x="476.2" y="90.70" font-size="10.8" textLength="130.22" lengthAdjust="spacingAndGlyphs">Ruminococcus sp. AF18-29</text>
<text x="476.2" y="101.30" font-size="10.8" textLength="142.15" lengthAdjust="spacingAndGlyphs">Ruminococcus sp. AM54-1NS</text>
<text x="476.2" y="112.40" font-size="10.8" textLength="123.04" lengthAdjust="spacingAndGlyphs">Ruminococcus sp. TF12-2</text>
<text x="476.2" y="122.90" font-size="10.8" textLength="130.22" lengthAdjust="spacingAndGlyphs">Ruminococcus sp. AF34-12</text>
<text x="476.2" y="133.50" font-size="10.8" textLength="130.22" lengthAdjust="spacingAndGlyphs">Ruminococcus sp. AF19-15</text>
<text x="476.2" y="144.60" font-size="10.8" textLength="124.96" lengthAdjust="spacingAndGlyphs">Ruminococcus bicirculans</text>
<text x="476.2" y="156.40" font-size="10.8" textLength="134.98" lengthAdjust="spacingAndGlyphs">Ruminococcus sp. AM28-13</text>
<text x="476.2" y="168.30" font-size="10.8" textLength="130.22" lengthAdjust="spacingAndGlyphs">Ruminococcus sp. AF16-50</text>
<text x="476.2" y="178.80" font-size="10.8" textLength="144.12" lengthAdjust="spacingAndGlyphs">Ruminococcus sp. AF26-25AA</text>
<text x="476.2" y="190.90" font-size="10.8" textLength="128.89" lengthAdjust="spacingAndGlyphs">Ruminococcus sp. AM43-6</text>
<text x="476.2" y="201.40" font-size="10.8" textLength="130.22" lengthAdjust="spacingAndGlyphs">Ruminococcus sp. AF37-20</text>
<text x="476.2" y="211.90" font-size="10.8" textLength="148.32" lengthAdjust="spacingAndGlyphs">Ruminococcus sp. AM31-15AC</text>
<text x="476.2" y="222.40" font-size="10.8" textLength="142.90" lengthAdjust="spacingAndGlyphs">Ruminococcus sp. AM47-2BH</text>
<text x="476.2" y="234.90" font-size="10.8" textLength="114.74" lengthAdjust="spacingAndGlyphs">Clostridium perfringens</text>
<text x="476.2" y="246.70" font-size="10.8" textLength="112.75" lengthAdjust="spacingAndGlyphs">Clostridium spiroforme</text>
<text x="476.2" y="257.20" font-size="10.8" textLength="157.09" lengthAdjust="spacingAndGlyphs">Subdoligranulum sp. APC924/74</text>
<text x="476.2" y="268.40" font-size="10.8" textLength="152.04" lengthAdjust="spacingAndGlyphs">Clostridium sp. Marseile-P3244</text>
<text x="476.2" y="280.20" font-size="10.8" textLength="126.12" lengthAdjust="spacingAndGlyphs">Bacteroides pectinophilus</text>
<text x="476.2" y="290.70" font-size="10.8" textLength="130.19" lengthAdjust="spacingAndGlyphs">Bacteroides sp. CF01-10NS</text>
<text x="476.2" y="301.20" font-size="10.8" textLength="101.17" lengthAdjust="spacingAndGlyphs">Bacteroides vulgatus</text>
<text x="476.2" y="311.60" font-size="10.8" textLength="109.87" lengthAdjust="spacingAndGlyphs">Clostridium sp. AF50-3</text>
<text x="476.2" y="323.50" font-size="10.8" textLength="160.40" lengthAdjust="spacingAndGlyphs">Faecalbacterium sp. OM04-11BH</text>
<text x="476.2" y="335.70" font-size="10.8" textLength="182.35" lengthAdjust="spacingAndGlyphs">Phascolarctobacterium succinatutens</text>
<text x="476.2" y="345.40" font-size="10.8" textLength="114.07" lengthAdjust="spacingAndGlyphs">Roseburia inulinivorans</text>
<text x="476.2" y="358.20" font-size="10.8" textLength="108.78" lengthAdjust="spacingAndGlyphs">Clostridium aldenense</text>
<text x="476.2" y="369.20" font-size="10.8" textLength="131.48" lengthAdjust="spacingAndGlyphs">Bacteroides sp. AF27-10BH</text>
<text x="476.2" y="380.70" font-size="10.8" textLength="140.24" lengthAdjust="spacingAndGlyphs">Subdoligranulum sp.AF14-43</text>
<text x="476.2" y="391.00" font-size="10.8" textLength="108.10" lengthAdjust="spacingAndGlyphs">Alistipes sp. CHKCI003</text>
<text x="476.2" y="401.60" font-size="10.8" textLength="87.97" lengthAdjust="spacingAndGlyphs">Alistipes sp. HGB5</text>
<text x="476.2" y="415.30" font-size="10.8" textLength="125.65" lengthAdjust="spacingAndGlyphs">Eubacterium sp. TM06-47</text>
<text x="476.2" y="426.40" font-size="10.8" textLength="136.86" lengthAdjust="spacingAndGlyphs">Alistipes sp. Marseile-P2431</text>
<text x="476.2" y="436.20" font-size="10.8" textLength="96.97" lengthAdjust="spacingAndGlyphs">Alistipes timonensis</text>
<text x="476.2" y="447.00" font-size="10.8" textLength="102.55" lengthAdjust="spacingAndGlyphs">Alistipes onderdonkii</text>
<text x="476.2" y="459.20" font-size="10.8" textLength="100.78" lengthAdjust="spacingAndGlyphs">Alistipes sp. AF17-16</text>
<text x="476.2" y="471.00" font-size="10.8" textLength="147.54" lengthAdjust="spacingAndGlyphs">Anaerotignum sp. KCTC 15736</text>
<text x="476.2" y="482.20" font-size="10.8" textLength="143.93" lengthAdjust="spacingAndGlyphs">Prevotella multisaccharivorax</text>
<text x="476.2" y="492.70" font-size="10.8" textLength="129.08" lengthAdjust="spacingAndGlyphs">Sutterella wadsworthensis</text>
<text x="476.2" y="503.50" font-size="10.8" textLength="107.16" lengthAdjust="spacingAndGlyphs">Prevotella sp. KH2C16</text>
<text x="476.2" y="514.40" font-size="10.8" textLength="110.65" lengthAdjust="spacingAndGlyphs">Prevotella sp. MA2C16</text>
<text x="476.2" y="526.50" font-size="10.8" textLength="98.59" lengthAdjust="spacingAndGlyphs">Prevotella bergensis</text>
<text x="476.2" y="536.30" font-size="10.8" textLength="136.36" lengthAdjust="spacingAndGlyphs">Prevotella sp. oraltaxon 820</text>
<text x="476.2" y="548.80" font-size="10.8" textLength="150.55" lengthAdjust="spacingAndGlyphs">Prevotella sp. OH937_COT-195</text>
<text x="476.2" y="560.40" font-size="10.8" textLength="98.29" lengthAdjust="spacingAndGlyphs">Prevotella maculosa</text>
<text x="476.2" y="570.50" font-size="10.8" textLength="92.32" lengthAdjust="spacingAndGlyphs">Prevotella sp. tf2-5</text>
<text x="476.2" y="580.70" font-size="10.8" textLength="109.98" lengthAdjust="spacingAndGlyphs">Prevotella sp. HUN102</text>
<text x="476.2" y="591.90" font-size="10.8" textLength="136.36" lengthAdjust="spacingAndGlyphs">Prevotella sp. oraltaxon 376</text>
<text x="476.2" y="604.40" font-size="10.8" textLength="75.04" lengthAdjust="spacingAndGlyphs">Prevotella bivia</text>
<text x="476.2" y="616.30" font-size="10.8" textLength="90.76" lengthAdjust="spacingAndGlyphs">Prevotella buccalis</text>
<text x="476.2" y="626.80" font-size="10.8" textLength="85.15" lengthAdjust="spacingAndGlyphs">Prevotella salivae</text>
<text x="476.2" y="639.20" font-size="10.8" textLength="82.50" lengthAdjust="spacingAndGlyphs">Prevotella ihumii</text>
<text x="476.2" y="648.60" font-size="10.8" textLength="89.56" lengthAdjust="spacingAndGlyphs">Prevotella bryantii</text>
<text x="476.2" y="659.40" font-size="10.8" textLength="103.01" lengthAdjust="spacingAndGlyphs">Prevotella sp. P2-180</text>
<text x="476.2" y="671.70" font-size="10.8" textLength="91.27" lengthAdjust="spacingAndGlyphs">Prevotella albensis</text>
<text x="476.2" y="683.70" font-size="10.8" textLength="97.31" lengthAdjust="spacingAndGlyphs">Prevotella denticola</text>
<text x="358.4" y="789.20" font-size="10.9" textLength="72.30" lengthAdjust="spacingAndGlyphs">Alistipes shahii</text>
<text x="358.4" y="804.60" font-size="10.9" textLength="161.83" lengthAdjust="spacingAndGlyphs">Ruthenibacterium lactatiformans</text>
<text x="358.4" y="819.40" font-size="10.9" textLength="97.21" lengthAdjust="spacingAndGlyphs">Alistipes timonensis</text>
<text x="358.4" y="834.50" font-size="10.9" textLength="123.88" lengthAdjust="spacingAndGlyphs">Angelakisella massiliensis</text>
<text x="358.4" y="849.60" font-size="10.9" textLength="130.99" lengthAdjust="spacingAndGlyphs">Anaerotruncus colihominis</text>
<text x="358.4" y="863.40" font-size="10.9" textLength="147.18" lengthAdjust="spacingAndGlyphs">Pseudoflavonifractor sp. An85</text>
<text x="358.4" y="878.60" font-size="10.9" textLength="85.94" lengthAdjust="spacingAndGlyphs">Alistipes sp. An66</text>
<text x="358.4" y="893.80" font-size="10.9" textLength="144.31" lengthAdjust="spacingAndGlyphs">Subdoligranulum sp. OF01-18</text>
<text x="358.4" y="910.20" font-size="10.9" textLength="141.92" lengthAdjust="spacingAndGlyphs">Bifidobacterium adolescentis</text>
<text x="358.4" y="925.30" font-size="10.9" textLength="140.86" lengthAdjust="spacingAndGlyphs">Ruminococcaceae bacterium</text>
<text x="358.4" y="940.40" font-size="10.9" textLength="96.01" lengthAdjust="spacingAndGlyphs">Gemmiger formiclis</text>
<text x="358.4" y="955.80" font-size="10.9" textLength="139.33" lengthAdjust="spacingAndGlyphs">Dialister sp. Marseille-P5638</text>
<text x="358.4" y="970.70" font-size="10.9" textLength="96.38" lengthAdjust="spacingAndGlyphs">Gemmiger sp. An87</text>
<text x="358.4" y="984.90" font-size="10.9" textLength="122.54" lengthAdjust="spacingAndGlyphs">Bacteroides sp. AM23-18</text>
<text x="358.4" y="1000.00" font-size="10.9" textLength="99.15" lengthAdjust="spacingAndGlyphs">Eubacterium eligens</text>
<text x="358.4" y="1015.10" font-size="10.9" textLength="105.76" lengthAdjust="spacingAndGlyphs">Bacteroides finegoldii</text>
<text x="358.4" y="1030.20" font-size="10.9" textLength="101.42" lengthAdjust="spacingAndGlyphs">Bacteroides vulgatus</text>
<text x="358.4" y="1046.00" font-size="10.9" textLength="127.21" lengthAdjust="spacingAndGlyphs">Megamonas hypermegale</text>
<text x="358.4" y="1061.10" font-size="10.9" textLength="113.49" lengthAdjust="spacingAndGlyphs">Megamonas funiformis</text>
<text x="358.4" y="1074.90" font-size="10.9" textLength="115.96" lengthAdjust="spacingAndGlyphs">Megamonas rupellensis</text>
<text x="358.4" y="1090.00" font-size="10.9" textLength="148.69" lengthAdjust="spacingAndGlyphs">Ruminococcus sp. AM40-10AC</text>
<text x="358.4" y="1105.70" font-size="10.9" textLength="120.50" lengthAdjust="spacingAndGlyphs">Megamonas sp. Calf98-2</text>
<text x="358.4" y="1120.80" font-size="10.9" textLength="129.41" lengthAdjust="spacingAndGlyphs">Sutterella wadsworthensis</text>
<text x="358.4" y="1136.20" font-size="10.9" textLength="118.25" lengthAdjust="spacingAndGlyphs">Alcanivorax sp. MTEO17</text>
<text x="358.4" y="1149.30" font-size="10.9" textLength="131.15" lengthAdjust="spacingAndGlyphs">Bacteroides sp. AF39-11AC</text>
<text x="358.4" y="1165.40" font-size="10.9" textLength="135.94" lengthAdjust="spacingAndGlyphs">Clostridium sp. OM04-12AA</text>
<text x="358.4" y="1181.10" font-size="10.9" textLength="146.10" lengthAdjust="spacingAndGlyphs">Bacteroides thetaiotaomicron</text>
<text x="358.4" y="1196.80" font-size="10.9" textLength="158.30" lengthAdjust="spacingAndGlyphs">Erysipelatoclostridium ramosum</text>
<defs><linearGradient id="ga" x1="0" y1="0" x2="0" y2="1">
<stop offset="0.000" stop-color="#cd2d30"/>
<stop offset="0.050" stop-color="#d24245"/>
<stop offset="0.100" stop-color="#d75759"/>
<stop offset="0.150" stop-color="#dc6c6e"/>
<stop offset="0.200" stop-color="#e18183"/>
<stop offset="0.250" stop-color="#e69698"/>
<stop offset="0.300" stop-color="#ebabac"/>
<stop offset="0.350" stop-color="#f0c0c1"/>
<stop offset="0.400" stop-color="#f5d5d6"/>
<stop offset="0.450" stop-color="#faeaea"/>
<stop offset="0.500" stop-color="#ffffff"/>
<stop offset="0.550" stop-color="#eaf5fa"/>
<stop offset="0.600" stop-color="#d5ecf4"/>
<stop offset="0.650" stop-color="#c0e2ee"/>
<stop offset="0.700" stop-color="#abd8e9"/>
<stop offset="0.750" stop-color="#96cee4"/>
<stop offset="0.800" stop-color="#82c5de"/>
<stop offset="0.850" stop-color="#6dbbd8"/>
<stop offset="0.900" stop-color="#58b1d3"/>
<stop offset="0.950" stop-color="#43a8ce"/>
<stop offset="1.000" stop-color="#2e9ec8"/>
</linearGradient></defs>
<rect x="650.40" y="83.00" width="11.40" height="148.00" fill="url(#ga)"/>
<text x="664.60" y="100.70" font-size="9.5" fill="#222">0.4</text>
<text x="664.60" y="130.05" font-size="9.5" fill="#222">0.2</text>
<text x="664.60" y="159.40" font-size="9.5" fill="#222">0</text>
<text x="664.60" y="188.75" font-size="9.5" fill="#222">−0.2</text>
<text x="664.60" y="218.10" font-size="9.5" fill="#222">−0.4</text>
<defs><linearGradient id="gb" x1="0" y1="0" x2="0" y2="1">
<stop offset="0.000" stop-color="#cd2d30"/>
<stop offset="0.050" stop-color="#d24245"/>
<stop offset="0.100" stop-color="#d75759"/>
<stop offset="0.150" stop-color="#dc6c6e"/>
<stop offset="0.200" stop-color="#e18183"/>
<stop offset="0.250" stop-color="#e69698"/>
<stop offset="0.300" stop-color="#ebabac"/>
<stop offset="0.350" stop-color="#f0c0c1"/>
<stop offset="0.400" stop-color="#f5d5d6"/>
<stop offset="0.450" stop-color="#faeaea"/>
<stop offset="0.500" stop-color="#ffffff"/>
<stop offset="0.550" stop-color="#eaf5fa"/>
<stop offset="0.600" stop-color="#d5ecf4"/>
<stop offset="0.650" stop-color="#c0e2ee"/>
<stop offset="0.700" stop-color="#abd8e9"/>
<stop offset="0.750" stop-color="#96cee4"/>
<stop offset="0.800" stop-color="#82c5de"/>
<stop offset="0.850" stop-color="#6dbbd8"/>
<stop offset="0.900" stop-color="#58b1d3"/>
<stop offset="0.950" stop-color="#43a8ce"/>
<stop offset="1.000" stop-color="#2e9ec8"/>
</linearGradient></defs>
<rect x="539.20" y="768.20" width="11.20" height="147.50" fill="url(#gb)"/>
<text x="553.40" y="786.10" font-size="9.7" fill="#222">0.4</text>
<text x="553.40" y="815.30" font-size="9.7" fill="#222">0.2</text>
<text x="553.40" y="844.50" font-size="9.7" fill="#222">0</text>
<text x="553.40" y="873.70" font-size="9.7" fill="#222">−0.2</text>
<text x="553.40" y="902.90" font-size="9.7" fill="#222">−0.4</text>
<text x="9.0" y="29.4" font-size="24" font-weight="bold" style="fill:#000">A</text>
<text x="0.3" y="734.0" font-size="24" font-weight="bold" style="fill:#000">B</text>
<text transform="translate(140.60 75.80) rotate(-29.70)" font-size="13.50" textLength="85.67" lengthAdjust="spacingAndGlyphs" stroke="#111" stroke-width="0.12" style="fill:#111">Phenylalanine</text>
<text transform="translate(173.30 76.30) rotate(-29.70)" font-size="13.50" textLength="33.51" lengthAdjust="spacingAndGlyphs" stroke="#111" stroke-width="0.12" style="fill:#111">(PHE)</text>
<text transform="translate(225.40 79.70) rotate(-29.70)" font-size="13.50" textLength="138.81" lengthAdjust="spacingAndGlyphs" stroke="#111" stroke-width="0.12" style="fill:#111">Phenylacetylglutamine</text>
<text transform="translate(274.80 70.70) rotate(-29.70)" font-size="13.50" textLength="46.30" lengthAdjust="spacingAndGlyphs" stroke="#111" stroke-width="0.12" style="fill:#111">(PAGln)</text>
<text transform="translate(328.80 75.30) rotate(-29.70)" font-size="13.50" textLength="105.24" lengthAdjust="spacingAndGlyphs" stroke="#111" stroke-width="0.12" style="fill:#111">Phenylacetic acid</text>
<text transform="translate(368.60 72.10) rotate(-29.70)" font-size="13.50" textLength="34.22" lengthAdjust="spacingAndGlyphs" stroke="#111" stroke-width="0.12" style="fill:#111">(PAA)</text>
<text transform="translate(420.90 76.10) rotate(-29.70)" font-size="13.50" textLength="127.32" lengthAdjust="spacingAndGlyphs" stroke="#111" stroke-width="0.12" style="fill:#111">Phenylpropionic acid</text>
<text transform="translate(471.30 66.80) rotate(-29.70)" font-size="13.50" textLength="33.28" lengthAdjust="spacingAndGlyphs" stroke="#111" stroke-width="0.12" style="fill:#111">(PPA)</text>
<text transform="translate(188.50 772.00) rotate(-29.70)" font-size="13.50" textLength="93.54" lengthAdjust="spacingAndGlyphs" stroke="#111" stroke-width="0.12" style="fill:#111"><tspan font-style="italic">p</tspan>-cresol sulfate</text>
<text transform="translate(224.80 769.30) rotate(-29.70)" font-size="13.50" textLength="29.05" lengthAdjust="spacingAndGlyphs" stroke="#111" stroke-width="0.12" style="fill:#111">(Pcs)</text>
<text transform="translate(257.00 770.70) rotate(-29.70)" font-size="13.50" textLength="124.50" lengthAdjust="spacingAndGlyphs" stroke="#111" stroke-width="0.12" style="fill:#111"><tspan font-style="italic">p</tspan>-cresol glucuronide</text>
<text transform="translate(306.40 760.40) rotate(-29.70)" font-size="13.50" textLength="30.25" lengthAdjust="spacingAndGlyphs" stroke="#111" stroke-width="0.12" style="fill:#111">(Pcg)</text>
<text transform="translate(328.60 772.10) rotate(-29.70)" font-size="13.50" textLength="88.98" lengthAdjust="spacingAndGlyphs" stroke="#111" stroke-width="0.12" style="fill:#111">Indoxyl sulfate</text>
<text transform="translate(367.10 769.70) rotate(-29.70)" font-size="13.50" textLength="19.75" lengthAdjust="spacingAndGlyphs" stroke="#111" stroke-width="0.12" style="fill:#111">(IS)</text>
<path d="M110.80 84.09L115.20 84.09 M110.80 95.28L115.20 95.28 M110.80 84.09L110.80 95.28 M106.50 89.69L110.80 89.69 M109.90 106.47L115.20 106.47 M110.80 117.66L115.20 117.66 M112.00 128.85L115.20 128.85 M112.90 140.04L115.20 140.04 M112.90 151.24L115.20 151.24 M112.90 140.04L112.90 151.24 M112.00 145.64L112.90 145.64 M112.00 128.85L112.00 145.64 M110.80 137.25L112.00 137.25 M110.80 117.66L110.80 137.25 M109.90 127.46L110.80 127.46 M109.90 106.47L109.90 127.46 M107.30 116.97L109.90 116.97 M109.90 162.43L115.20 162.43 M111.60 173.62L115.20 173.62 M113.70 184.81L115.20 184.81 M114.00 196.00L115.20 196.00 M114.30 207.19L115.20 207.19 M114.30 218.38L115.20 218.38 M114.30 207.19L114.30 218.38 M114.00 212.78L114.30 212.78 M114.00 196.00L114.00 212.78 M113.70 204.39L114.00 204.39 M113.70 184.81L113.70 204.39 M111.60 194.60L113.70 194.60 M111.60 173.62L111.60 194.60 M109.90 184.11L111.60 184.11 M109.90 162.43L109.90 184.11 M107.30 173.27L109.90 173.27 M107.30 116.97L107.30 173.27 M106.50 145.12L107.30 145.12 M106.50 89.69L106.50 145.12 M96.90 117.40L106.50 117.40 M107.40 229.56L115.20 229.56 M107.40 240.75L115.20 240.75 M107.40 229.56L107.40 240.75 M98.20 235.16L107.40 235.16 M106.10 251.94L115.20 251.94 M110.20 263.13L115.20 263.13 M110.20 274.32L115.20 274.32 M110.20 263.13L110.20 274.32 M106.10 268.73L110.20 268.73 M106.10 251.94L106.10 268.73 M98.20 260.34L106.10 260.34 M98.20 235.16L98.20 260.34 M96.90 247.75L98.20 247.75 M96.90 117.40L96.90 247.75 M81.70 182.58L96.90 182.58 M105.10 285.51L115.20 285.51 M108.40 296.70L115.20 296.70 M108.40 307.89L115.20 307.89 M108.40 296.70L108.40 307.89 M105.10 302.30L108.40 302.30 M105.10 285.51L105.10 302.30 M88.60 293.91L105.10 293.91 M100.50 319.08L115.20 319.08 M107.00 330.27L115.20 330.27 M107.00 341.46L115.20 341.46 M107.00 330.27L107.00 341.46 M100.50 335.87L107.00 335.87 M100.50 319.08L100.50 335.87 M88.60 327.48L100.50 327.48 M88.60 293.91L88.60 327.48 M81.70 310.69L88.60 310.69 M81.70 182.58L81.70 310.69 M76.50 246.63L81.70 246.63 M107.40 352.65L115.20 352.65 M111.10 363.84L115.20 363.84 M111.10 375.03L115.20 375.03 M111.10 363.84L111.10 375.03 M107.40 369.44L111.10 369.44 M107.40 352.65L107.40 369.44 M94.60 361.05L107.40 361.05 M112.00 386.22L115.20 386.22 M112.00 397.41L115.20 397.41 M112.00 386.22L112.00 397.41 M109.30 391.82L112.00 391.82 M110.00 408.60L115.20 408.60 M112.50 419.79L115.20 419.79 M112.50 430.98L115.20 430.98 M112.50 419.79L112.50 430.98 M110.00 425.39L112.50 425.39 M110.00 408.60L110.00 425.39 M109.30 417.00L110.00 417.00 M109.30 391.82L109.30 417.00 M102.40 404.41L109.30 404.41 M107.40 442.18L115.20 442.18 M107.40 453.37L115.20 453.37 M107.40 442.18L107.40 453.37 M102.40 447.77L107.40 447.77 M102.40 404.41L102.40 447.77 M94.60 426.09L102.40 426.09 M94.60 361.05L94.60 426.09 M80.80 393.57L94.60 393.57 M101.50 464.56L115.20 464.56 M108.40 475.75L115.20 475.75 M108.40 486.94L115.20 486.94 M108.40 475.75L108.40 486.94 M101.50 481.34L108.40 481.34 M101.50 464.56L101.50 481.34 M93.60 472.95L101.50 472.95 M114.20 498.12L115.20 498.12 M114.60 509.31L115.20 509.31 M114.60 520.50L115.20 520.50 M114.60 509.31L114.60 520.50 M114.20 514.91L114.60 514.91 M114.20 498.12L114.20 514.91 M111.40 506.52L114.20 506.52 M114.30 531.69L115.20 531.69 M114.30 542.88L115.20 542.88 M114.30 531.69L114.30 542.88 M113.70 537.29L114.30 537.29 M114.60 554.08L115.20 554.08 M114.60 565.26L115.20 565.26 M114.60 554.08L114.60 565.26 M114.20 559.67L114.60 559.67 M114.70 576.45L115.20 576.45 M114.70 587.64L115.20 587.64 M114.70 576.45L114.70 587.64 M114.20 582.05L114.70 582.05 M114.20 559.67L114.20 582.05 M113.70 570.86L114.20 570.86 M113.70 537.29L113.70 570.86 M111.40 554.08L113.70 554.08 M111.40 506.52L111.40 554.08 M107.90 530.30L111.40 530.30 M110.70 598.83L115.20 598.83 M111.60 610.02L115.20 610.02 M111.60 621.22L115.20 621.22 M111.60 610.02L111.60 621.22 M110.70 615.62L111.60 615.62 M110.70 598.83L110.70 615.62 M107.90 607.23L110.70 607.23 M107.90 530.30L107.90 607.23 M99.60 568.76L107.90 568.76 M105.60 632.40L115.20 632.40 M111.60 643.60L115.20 643.60 M111.60 654.78L115.20 654.78 M111.60 643.60L111.60 654.78 M107.40 649.19L111.60 649.19 M110.20 665.98L115.20 665.98 M110.20 677.16L115.20 677.16 M110.20 665.98L110.20 677.16 M107.40 671.57L110.20 671.57 M107.40 649.19L107.40 671.57 M105.60 660.38L107.40 660.38 M105.60 632.40L105.60 660.38 M99.60 646.39L105.60 646.39 M99.60 568.76L99.60 646.39 M93.60 607.58L99.60 607.58 M93.60 472.95L93.60 607.58 M80.80 540.26L93.60 540.26 M80.80 393.57L80.80 540.26 M76.50 466.92L80.80 466.92 M76.50 246.63L76.50 466.92" stroke="#404040" stroke-width="1.00" fill="none"/>
<path d="M178.70 784.78L181.30 784.78 M178.70 799.93L181.30 799.93 M178.70 784.78L178.70 799.93 M173.70 792.35L178.70 792.35 M178.70 815.08L181.30 815.08 M178.70 830.23L181.30 830.23 M178.70 815.08L178.70 830.23 M176.70 822.65L178.70 822.65 M179.50 845.38L181.30 845.38 M179.50 860.53L181.30 860.53 M179.50 845.38L179.50 860.53 M177.70 852.95L179.50 852.95 M179.20 875.68L181.30 875.68 M179.20 890.83L181.30 890.83 M179.20 875.68L179.20 890.83 M177.70 883.25L179.20 883.25 M177.70 852.95L177.70 883.25 M176.70 868.10L177.70 868.10 M176.70 822.65L176.70 868.10 M173.70 845.38L176.70 845.38 M173.70 792.35L173.70 845.38 M165.10 818.86L173.70 818.86 M172.70 905.98L181.30 905.98 M176.90 921.12L181.30 921.12 M178.50 936.28L181.30 936.28 M180.50 951.43L181.30 951.43 M180.50 966.58L181.30 966.58 M180.50 951.43L180.50 966.58 M178.50 959.00L180.50 959.00 M178.50 936.28L178.50 959.00 M176.90 947.64L178.50 947.64 M176.90 921.12L176.90 947.64 M172.70 934.38L176.90 934.38 M172.70 905.98L172.70 934.38 M165.10 920.18L172.70 920.18 M165.10 818.86L165.10 920.18" stroke="#404040" stroke-width="1.00" fill="none"/>
<path d="M158.1 869.52H165.1" stroke="#404040" stroke-width="1"/>
<path d="M180.30 981.73L181.30 981.73 M180.30 996.88L181.30 996.88 M180.30 981.73L180.30 996.88 M175.70 989.30L180.30 989.30 M178.90 1012.03L181.30 1012.03 M178.90 1027.17L181.30 1027.17 M178.90 1012.03L178.90 1027.17 M175.70 1019.60L178.90 1019.60 M175.70 989.30L175.70 1019.60 M163.80 1004.45L175.70 1004.45 M176.20 1042.33L181.30 1042.33 M177.90 1057.48L181.30 1057.48 M180.80 1072.62L181.30 1072.62 M180.80 1087.78L181.30 1087.78 M180.80 1072.62L180.80 1087.78 M178.30 1080.20L180.80 1080.20 M179.50 1102.93L181.30 1102.93 M179.50 1118.08L181.30 1118.08 M179.50 1102.93L179.50 1118.08 M178.30 1110.50L179.50 1110.50 M178.30 1080.20L178.30 1110.50 M177.90 1095.35L178.30 1095.35 M177.90 1057.48L177.90 1095.35 M176.20 1076.41L177.90 1076.41 M176.20 1042.33L176.20 1076.41 M169.50 1059.37L176.20 1059.37 M177.00 1133.23L181.30 1133.23 M179.90 1148.38L181.30 1148.38 M179.90 1163.53L181.30 1163.53 M179.90 1148.38L179.90 1163.53 M177.00 1155.95L179.90 1155.95 M177.00 1133.23L177.00 1155.95 M173.30 1144.59L177.00 1144.59 M176.10 1178.68L181.30 1178.68 M176.10 1193.83L181.30 1193.83 M176.10 1178.68L176.10 1193.83 M173.30 1186.25L176.10 1186.25 M173.30 1144.59L173.30 1186.25 M169.50 1165.42L173.30 1165.42 M169.50 1059.37L169.50 1165.42 M163.80 1112.39L169.50 1112.39 M163.80 1004.45L163.80 1112.39" stroke="#404040" stroke-width="1.00" fill="none"/>
<path d="M158.1 1058.42H163.8" stroke="#404040" stroke-width="1"/>
</svg>
</body></html>
